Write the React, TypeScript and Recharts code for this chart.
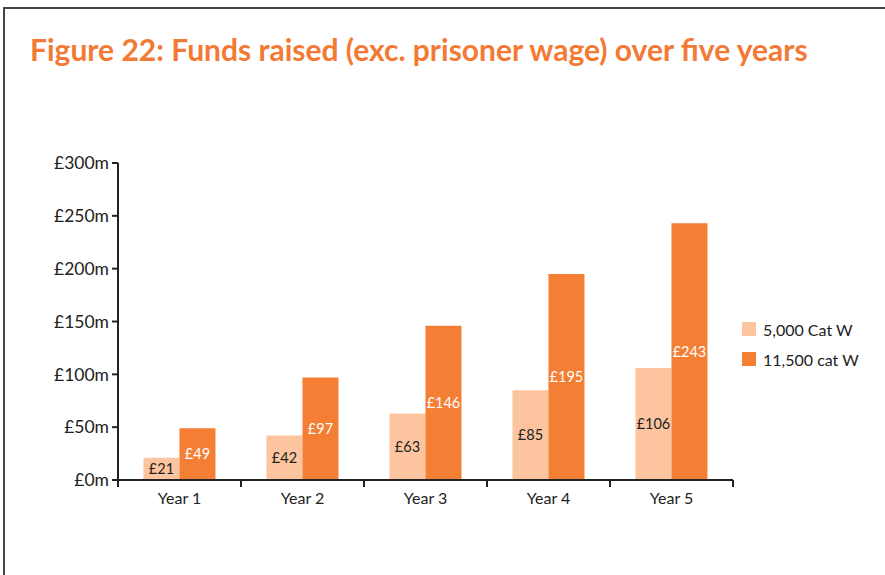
import React from "react";
import { BarChart, Bar, XAxis, YAxis, LabelList } from "recharts";

const years = ["Year 1", "Year 2", "Year 3", "Year 4", "Year 5"];
const catW5000 = [21, 42, 63, 85, 106];
const catW11500 = [49, 97, 146, 195, 243];
const yTicks = [0, 50, 100, 150, 200, 250, 300];
const seriesNames = ["5,000 Cat W", "11,500 cat W"];

const LIGHT = "#FCC59F";
const DARK = "#F47E33";
const FONT = "Lato, 'Open Sans', sans-serif";

const data = years.map((y, i) => ({ year: y, a: catW5000[i], b: catW11500[i] }));

const XTick = (props: any) => {
  const { x, y, payload, index } = props;
  const off = payload.offset || 0;
  const last = index === years.length - 1;
  return (
    <g>
      <line x1={x - off} y1={y - 8} x2={x - off} y2={y - 1} stroke="#222" strokeWidth={2} />
      {last && <line x1={x + off} y1={y - 8} x2={x + off} y2={y - 1} stroke="#222" strokeWidth={2} />}
      <text x={x} y={y + 16} textAnchor="middle" fill="#222" fontSize={16} fontFamily={FONT}>
        {payload.value}
      </text>
    </g>
  );
};

const LegendBox = () => (
  <div style={{ position: "absolute", left: 742, top: 314, fontFamily: FONT, fontSize: 16, color: "#222" }}>
    {seriesNames.map((n, i) => (
      <div key={n} style={{ display: "flex", alignItems: "center", height: 30 }}>
        <span style={{ display: "inline-block", width: 14, height: 14, background: i === 0 ? LIGHT : DARK, marginRight: 7 }} />
        <span>{n}</span>
      </div>
    ))}
  </div>
);

export default function App() {
  return (
    <div style={{ position: "absolute", left: 0, top: 0, width: 885, height: 575, background: "#fff", overflow: "hidden" }}>
      <div style={{ position: "absolute", left: 3, top: 7, width: 890, height: 600, borderTop: "2px solid #444", borderLeft: "2px solid #444" }} />
      <div style={{ position: "absolute", left: 30, top: 31, fontFamily: FONT, fontWeight: 700, fontSize: 30, lineHeight: "36px", color: "#F37A35", whiteSpace: "nowrap" }}>
        Figure 22: Funds raised (exc. prisoner wage) over five years
      </div>
      <div style={{ position: "absolute", left: 0, top: 0 }}>
        <BarChart width={885} height={575} data={data} margin={{ top: 163, right: 152, bottom: 65, left: 0 }} barCategoryGap="20.7%" barGap={0}>
          <YAxis
            width={118}
            domain={[0, 300]}
            ticks={yTicks}
            interval={0}
            tickFormatter={(v: number) => `£${v}m`}
            axisLine={{ stroke: "#222", strokeWidth: 2 }}
            tickLine={{ stroke: "#222", strokeWidth: 2 }}
            tickSize={6}
            tickMargin={3}
            tick={{ fill: "#222", fontSize: 17.5, fontFamily: FONT }}
          />
          <XAxis
            dataKey="year"
            height={30}
            axisLine={{ stroke: "#222", strokeWidth: 2 }}
            tickLine={false}
            tick={<XTick />}
            interval={0}
          />
          <Bar dataKey="a" name={seriesNames[0]} fill={LIGHT} isAnimationActive={false}>
            <LabelList dataKey="a" position="center" formatter={(v: number) => `£${v}`} fill="#222" fontSize={14.5} fontFamily={FONT} />
          </Bar>
          <Bar dataKey="b" name={seriesNames[1]} fill={DARK} isAnimationActive={false}>
            <LabelList dataKey="b" position="center" formatter={(v: number) => `£${v}`} fill="#fff" fontSize={14.5} fontFamily={FONT} />
          </Bar>
        </BarChart>
      </div>
      <LegendBox />
    </div>
  );
}
